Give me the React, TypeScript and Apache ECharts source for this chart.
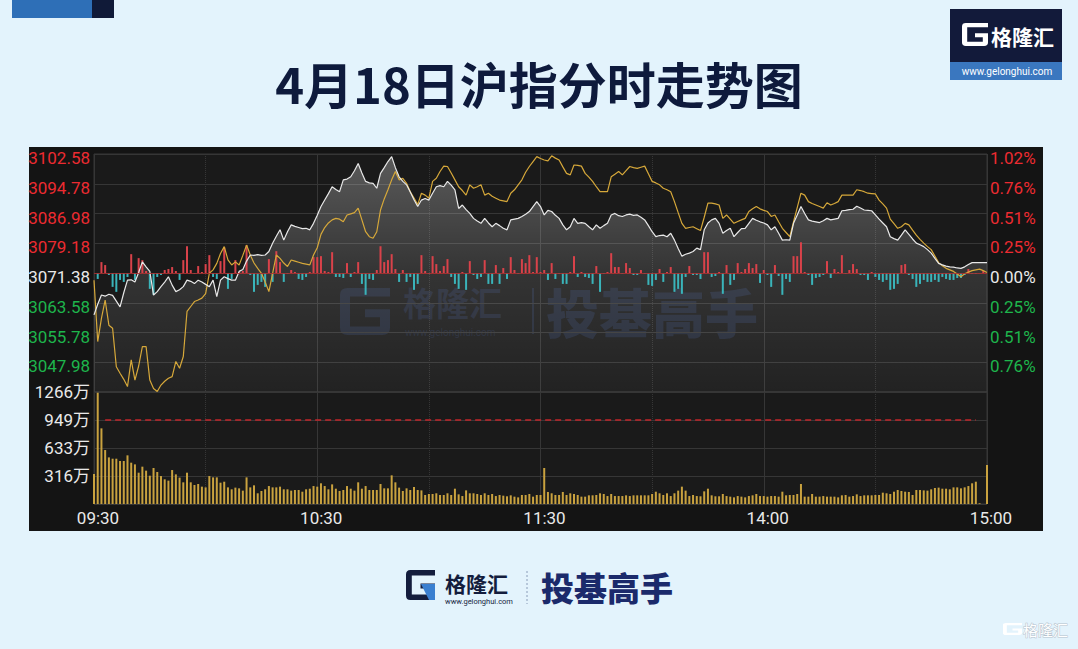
import React, { useEffect, useRef } from "react";
import * as echarts from "echarts";

const PREV_CLOSE = 3071.38;

const PRICE = [
  3060.4,3063.2,3065.6,3065.3,3065.8,3065.5,3064.0,3062.5,3066.2,3069.5,
  3069.6,3069.0,3071.5,3074.3,3073.0,3071.8,3065.6,3066.5,3067.8,3069.0,
  3070.4,3068.2,3066.5,3067.0,3067.8,3069.5,3069.2,3068.6,3069.5,3069.0,
  3068.4,3067.8,3069.5,3065.2,3069.5,3070.4,3069.9,3069.5,3069.5,3071.8,
  3072.3,3074.5,3076.1,3076.0,3076.2,3076.0,3076.1,3077.0,3079.2,3081.0,
  3082.7,3080.0,3082.2,3084.0,3083.6,3083.3,3083.0,3083.1,3082.7,3084.4,
  3086.5,3088.8,3090.5,3092.2,3094.0,3093.3,3092.7,3095.8,3096.0,3096.6,
  3098.2,3100.1,3097.6,3095.4,3095.0,3094.9,3093.6,3097.5,3099.0,3100.6,
  3101.9,3099.0,3096.6,3095.4,3094.5,3092.6,3090.6,3088.8,3090.5,3090.9,
  3090.5,3092.3,3094.0,3094.3,3094.0,3095.4,3094.4,3093.2,3088.3,3089.2,
  3088.0,3087.0,3085.7,3085.0,3084.4,3085.7,3084.5,3083.5,3084.4,3083.8,
  3083.1,3082.7,3085.3,3085.5,3085.7,3086.2,3086.8,3087.5,3088.8,3090.1,
  3088.8,3086.6,3087.8,3087.5,3086.5,3085.7,3084.0,3082.7,3083.5,3085.7,
  3084.4,3084.6,3084.4,3083.5,3082.7,3084.0,3083.1,3083.8,3084.4,3086.6,
  3087.0,3086.4,3086.2,3086.6,3086.8,3086.5,3086.6,3086.0,3085.3,3083.8,
  3082.2,3080.9,3081.2,3081.3,3080.9,3081.8,3080.0,3077.8,3075.8,3076.3,
  3076.6,3077.0,3077.9,3077.5,3082.7,3084.5,3085.3,3085.7,3084.4,3081.8,
  3082.5,3083.1,3080.9,3082.0,3083.0,3083.1,3084.4,3085.7,3085.2,3084.8,
  3084.5,3084.0,3082.7,3083.5,3081.8,3080.0,3080.1,3080.0,3084.4,3086.6,
  3088.8,3087.0,3085.3,3085.0,3084.8,3084.6,3085.1,3085.7,3085.3,3085.5,
  3085.7,3087.7,3087.8,3088.0,3088.1,3088.9,3088.4,3087.9,3087.8,3087.7,
  3086.6,3085.5,3084.5,3083.5,3080.9,3080.4,3080.0,3081.3,3082.7,3081.5,
  3080.3,3079.2,3078.8,3078.3,3077.5,3076.6,3075.2,3073.9,3073.5,3073.2,
  3073.0,3072.9,3072.7,3072.6,3073.0,3073.6,3074.1,3074.1,3074.1,3074.1,
  3074.1,
];

const AVG = [
  3069.5,3053.4,3059.5,3064.3,3057.7,3056.9,3046.8,3045.1,3043.5,3041.6,
  3048.6,3043.3,3047.0,3052.1,3052.1,3043.3,3041.1,3040.3,3042.0,3043.0,
  3043.8,3044.2,3048.2,3046.4,3049.5,3061.3,3062.6,3063.9,3064.3,3064.8,
  3066.0,3071.3,3072.2,3073.9,3076.5,3078.3,3074.8,3073.5,3074.3,3073.5,
  3076.0,3078.7,3076.1,3074.0,3072.6,3071.3,3069.0,3066.5,3071.3,3076.1,
  3075.2,3074.0,3073.1,3074.8,3074.5,3074.2,3073.9,3073.7,3073.5,3076.1,
  3078.0,3081.5,3083.3,3084.5,3085.3,3085.7,3085.5,3084.8,3086.6,3086.9,
  3087.2,3088.4,3085.3,3082.2,3080.9,3080.5,3082.2,3087.9,3090.8,3093.2,
  3095.8,3098.0,3095.8,3096.2,3094.9,3092.7,3091.0,3089.3,3092.3,3091.8,
  3091.0,3095.4,3096.2,3098.0,3099.4,3099.3,3097.6,3095.8,3094.0,3093.0,
  3091.8,3094.5,3093.6,3094.0,3094.5,3091.8,3092.3,3091.5,3091.0,3090.5,
  3090.3,3090.1,3092.3,3093.2,3094.5,3095.8,3097.8,3099.3,3100.6,3101.9,
  3101.4,3101.0,3100.8,3102.1,3101.5,3101.0,3099.2,3097.5,3097.1,3099.7,
  3099.6,3099.4,3097.5,3096.5,3095.4,3094.0,3092.7,3092.7,3092.7,3096.6,
  3097.3,3098.0,3097.1,3098.2,3099.3,3099.0,3098.8,3099.1,3099.4,3097.4,
  3095.4,3095.0,3094.5,3093.6,3093.2,3092.7,3090.1,3087.2,3084.4,3083.1,
  3083.3,3083.5,3083.0,3082.5,3086.0,3089.7,3089.7,3089.5,3089.2,3085.7,
  3086.6,3085.5,3084.4,3084.9,3085.3,3085.7,3087.5,3088.2,3088.8,3088.2,
  3087.8,3087.5,3086.2,3086.6,3084.8,3083.1,3082.0,3080.9,3084.8,3088.5,
  3092.3,3091.8,3090.1,3089.6,3089.2,3088.8,3088.4,3089.8,3089.2,3089.6,
  3090.1,3091.8,3091.8,3091.8,3091.8,3093.2,3093.0,3092.7,3092.3,3092.2,
  3092.1,3090.5,3089.5,3088.4,3085.5,3084.3,3083.1,3083.5,3084.4,3084.0,
  3082.6,3081.3,3080.2,3079.2,3078.3,3077.5,3075.8,3074.1,3073.3,3072.6,
  3072.2,3071.8,3071.1,3070.4,3071.2,3071.6,3072.0,3072.2,3072.4,3072.0,
  3071.5,
];

const FORCE = [
  0,-6,11,8,-2,-14,-19,-7,-9,-4,
  19,-7,15,13,2,-16,-22,-4,-2,3,
  4,6,2,-7,13,27,3,-1,7,1,
  9,18,-4,-6,12,26,-16,-6,13,1,
  2,28,-2,-19,-12,-9,-14,14,-9,22,
  11,-9,-1,3,1,-6,-7,-4,1,16,
  16,17,2,1,21,-4,-4,-5,10,-4,
  1,11,-11,-22,-6,-7,3,27,11,13,
  19,4,-9,3,-9,-4,-17,-11,18,2,
  -1,17,9,2,7,14,-4,-11,-16,1,
  -17,12,-2,-6,-4,13,-11,-11,8,-11,
  5,-6,16,3,-1,14,10,18,1,16,
  1,3,-7,10,-6,-1,-11,-11,1,17,
  -4,1,-4,-5,-11,7,-19,-1,1,20,
  6,6,-1,10,5,-2,-2,3,-1,-12,
  -13,-7,4,-9,1,6,-19,-16,-21,-4,
  7,-2,-2,-6,21,21,-4,-3,1,-21,
  8,-12,-7,10,1,4,10,5,9,-10,
  3,-2,-14,8,-3,-22,-6,-9,17,17,
  31,1,-2,-12,-5,-4,-2,12,-5,4,
  1,18,-1,3,9,4,-2,-2,-7,1,
  -4,-7,-9,-7,-17,-16,-11,8,9,-2,
  -6,-14,-11,-7,-9,-9,-7,-9,-4,-6,
  -7,-7,-5,-5,-2,4,-1,-1,0,2,
  0,
];

// 成交量（万）
const VOLUME = [
  339,1258,855,610,527,512,512,486,486,550,
  467,448,354,422,377,320,407,362,316,279,
  264,384,335,298,245,354,245,215,226,196,
  188,316,301,301,241,252,188,166,185,177,
  151,301,188,211,121,147,166,203,188,188,
  196,166,166,151,158,158,139,166,173,203,
  196,234,203,166,222,173,147,158,203,173,
  151,245,173,203,158,158,158,226,177,177,
  324,245,185,147,177,158,192,158,154,102,
  113,113,121,102,102,121,102,173,109,90,
  154,121,121,113,102,121,102,113,90,102,
  94,87,98,83,75,102,102,113,83,102,
  102,407,136,121,102,102,136,102,121,113,
  102,83,83,98,98,102,121,113,90,113,
  90,90,90,98,90,98,98,98,98,98,
  113,139,121,102,121,90,121,151,196,151,
  90,102,90,87,143,173,98,87,87,113,
  90,83,75,90,83,75,90,98,113,90,
  90,83,90,90,83,139,98,102,102,113,
  226,83,83,113,83,83,90,83,83,83,
  75,98,102,83,90,109,90,98,98,98,
  102,102,128,121,113,139,158,147,139,136,
  102,158,158,154,151,166,181,185,173,173,
  166,188,188,177,188,203,234,252,8,0,
  441,
];

const VOLUME_REF = 949.5;
const TITLE = "4月18日沪指分时走势图";

const G_PATH =
  "M100 0 L15 0 Q0 0 0 15 L0 85 Q0 100 15 100 L85 100 Q100 100 100 85 L100 45 L50 45 L50 62 L80 62 L80 82 L20 82 L20 18 L100 18 Z";
echarts.graphic.registerShape("gelongG", echarts.graphic.extendPath(G_PATH, {}) as any);

function pad2(n: number) {
  return n < 10 ? "0" + n : String(n);
}
function buildTimes(): string[] {
  const out: string[] = [];
  for (let i = 0; i <= 120; i++) {
    const m = 9 * 60 + 30 + i;
    out.push(pad2(Math.floor(m / 60)) + ":" + pad2(m % 60));
  }
  for (let i = 1; i <= 120; i++) {
    const m = 13 * 60 + i;
    out.push(pad2(Math.floor(m / 60)) + ":" + pad2(m % 60));
  }
  return out;
}

const FONT = 'Roboto, "Noto Sans CJK SC", sans-serif';
const CJK = '"Noto Sans CJK SC", sans-serif';
const RED = "#ec2b31";
const GREEN = "#1eb54c";
const WHITE = "#e9e9e9";
const GRID_LINE = "#363636";

export default function App() {
  const ref = useRef<HTMLDivElement>(null);

  useEffect(() => {
    if (!ref.current) return;
    const chart = echarts.init(ref.current, undefined, { renderer: "svg" });
    const times = buildTimes();
    const solid = (i: number) => i % 60 === 0;
    const dotted = (i: number) => i % 60 === 30;
    const xBase = (gridIndex: number, type: string, interval: any, showLabel: boolean) => ({
      type: "category",
      gridIndex,
      data: times,
      boundaryGap: false,
      axisLine: { show: false },
      axisTick: { show: false },
      axisLabel: showLabel
        ? {
            show: true,
            interval: (i: number) => i % 60 === 0,
            color: WHITE,
            fontSize: 17,
            fontFamily: FONT,
            margin: 5,
            padding: [0, 0, 0, 8],
          }
        : { show: false },
      splitLine: { show: true, interval, lineStyle: { color: GRID_LINE, type, width: 1 } },
    });

    const priceLabel = (v: number) => {
      const k = v > 0.001 ? "r" : v < -0.001 ? "g" : "w";
      return `{${k}|${(v + PREV_CLOSE).toFixed(2)}}`;
    };
    const pctLabel = (v: number) => {
      const k = v > 0.001 ? "r" : v < -0.001 ? "g" : "w";
      return `{${k}|${Math.abs((v / PREV_CLOSE) * 100).toFixed(2)}%}`;
    };
    const rich = {
      r: { color: RED, fontSize: 17, fontFamily: FONT },
      g: { color: GREEN, fontSize: 17, fontFamily: FONT },
      w: { color: WHITE, fontSize: 17, fontFamily: FONT },
    };

    const gIcon = (x: number, y: number, sx: number, sy: number, fill: string, z = 0) => ({
      type: "gelongG",
      x,
      y,
      scaleX: sx,
      scaleY: sy,
      z,
      style: { fill },
    });

    const wm = "rgba(48,62,100,0.38)";

    const option: any = {
      animation: false,
      backgroundColor: "transparent",
      title: {
        text: TITLE,
        left: "center",
        top: 50,
        textStyle: {
          fontSize: 49,
          fontWeight: "bold",
          color: "#0e1a3c",
          fontFamily: CJK,
          lineHeight: 54,
        },
      },
      grid: [
        { left: 94, top: 154, width: 893, height: 238, show: true, backgroundColor: "transparent", borderColor: GRID_LINE, borderWidth: 1 },
        { left: 94, top: 392, width: 893, height: 112, show: true, backgroundColor: "transparent", borderColor: GRID_LINE, borderWidth: 1 },
      ],
      xAxis: [
        xBase(0, "solid", solid, false),
        xBase(0, "dotted", dotted, false),
        xBase(1, "solid", solid, true),
        xBase(1, "dotted", dotted, false),
      ],
      yAxis: [
        {
          type: "value",
          gridIndex: 0,
          position: "left",
          min: -31.2,
          max: 31.2,
          interval: 7.8,
          axisLine: { show: false },
          axisTick: { show: false },
          splitLine: { show: true, lineStyle: { color: GRID_LINE, width: 1 } },
          axisLabel: { showMinLabel: false, margin: 4, formatter: priceLabel, rich, padding: [8, 0, 0, 0] },
        },
        {
          type: "value",
          gridIndex: 0,
          position: "right",
          min: -31.2,
          max: 31.2,
          interval: 7.8,
          axisLine: { show: false },
          axisTick: { show: false },
          splitLine: { show: false },
          axisLabel: { showMinLabel: false, margin: 3, formatter: pctLabel, rich, padding: [8, 0, 0, 0] },
        },
        {
          type: "value",
          gridIndex: 0,
          min: -120,
          max: 120,
          show: false,
          splitLine: { show: false },
        },
        {
          type: "value",
          gridIndex: 1,
          position: "left",
          min: 0,
          max: 1266,
          interval: 316.5,
          axisLine: { show: false },
          axisTick: { show: false },
          splitLine: { show: true, lineStyle: { color: GRID_LINE, width: 1 } },
          axisLabel: {
            margin: 4,
            color: WHITE,
            fontSize: 17,
            fontFamily: FONT,
            padding: [10, 0, 0, 0],
            formatter: (v: number) => (v === 0 ? "" : Math.floor(v) + "万"),
          },
        },
      ],
      series: [
        {
          name: "价格区域",
          type: "line",
          xAxisIndex: 0,
          yAxisIndex: 0,
          data: PRICE.map((p) => +(p - PREV_CLOSE).toFixed(2)),
          symbol: "none",
          lineStyle: { width: 0 },
          areaStyle: {
            origin: "start",
            color: new echarts.graphic.LinearGradient(0, 0, 0, 1, [
              { offset: 0, color: "rgba(255,255,255,0.40)" },
              { offset: 0.5, color: "rgba(255,255,255,0.16)" },
              { offset: 1, color: "rgba(255,255,255,0.05)" },
            ]),
          },
          silent: true,
          z: 1,
        },
        {
          name: "力度",
          type: "bar",
          xAxisIndex: 0,
          yAxisIndex: 2,
          barWidth: 2,
          data: FORCE.map((v) => ({ value: v, itemStyle: { color: v >= 0 ? "#d9424a" : "#3ab4ba" } })),
          markLine: {
            silent: true,
            symbol: "none",
            label: { show: false },
            lineStyle: { color: "rgba(170,45,45,0.85)", type: "solid", width: 1 },
            data: [{ yAxis: 0 }],
          },
          z: 2,
        },
        {
          name: "均价",
          type: "line",
          xAxisIndex: 0,
          yAxisIndex: 0,
          data: AVG.map((p) => +(p - PREV_CLOSE).toFixed(2)),
          symbol: "none",
          lineStyle: { color: "#d6a83a", width: 1.2 },
          z: 3,
        },
        {
          name: "价格",
          type: "line",
          xAxisIndex: 0,
          yAxisIndex: 0,
          data: PRICE.map((p) => +(p - PREV_CLOSE).toFixed(2)),
          symbol: "none",
          lineStyle: { color: "#e8e8e8", width: 1.2 },
          z: 4,
        },
        {
          name: "成交量",
          type: "bar",
          xAxisIndex: 2,
          yAxisIndex: 3,
          barWidth: 2,
          itemStyle: { color: "#c9a23f" },
          data: VOLUME,
          markLine: {
            silent: true,
            symbol: "none",
            label: { show: false },
            lineStyle: { color: "#c4262b", type: [6, 4], width: 1.6 },
            data: [[{ xAxis: times[3], yAxis: VOLUME_REF }, { xAxis: times[237], yAxis: VOLUME_REF }]],
          },
        },
      ],
      graphic: [
        // top-left decoration
        { type: "rect", shape: { x: 12, y: 0, width: 80, height: 18 }, style: { fill: "#2e6fb7" } },
        { type: "rect", shape: { x: 92, y: 0, width: 22, height: 18 }, style: { fill: "#101a38" } },
        // top-right logo
        { type: "rect", shape: { x: 950, y: 9, width: 112, height: 53 }, style: { fill: "#121a3a" } },
        { type: "rect", shape: { x: 950, y: 62, width: 112, height: 18 }, style: { fill: "#3a77bf" } },
        gIcon(962, 23, 0.26, 0.23, "#ffffff"),
        { type: "text", x: 991, y: 36, style: { text: "格隆汇", fill: "#ffffff", font: `bold 21px ${CJK}`, verticalAlign: "middle" } },
        { type: "text", x: 1007, y: 71, style: { text: "www.gelonghui.com", fill: "#ffffff", font: `10px ${FONT}`, align: "center", verticalAlign: "middle" } },
        // in-chart watermark
        gIcon(340, 288, 0.5, 0.47, wm),
        { type: "text", x: 403, y: 302, style: { text: "格隆汇", fill: wm, font: `bold 33px ${CJK}`, verticalAlign: "middle" } },
        { type: "text", x: 405, y: 332, style: { text: "www.gelonghui.com", fill: wm, font: `10px ${FONT}`, verticalAlign: "middle" } },
        { type: "rect", shape: { x: 532, y: 288, width: 2, height: 46 }, style: { fill: wm } },
        { type: "text", x: 546, y: 311, style: { text: "投基高手", fill: wm, font: `900 53px ${CJK}`, verticalAlign: "middle" } },
        // bottom logo
        gIcon(406, 570, 0.29, 0.3, "#141d3d"),
        { type: "polygon", shape: { points: [[421, 584], [435, 584], [435, 600], [429, 600]] }, style: { fill: "#3a7fd0" } },
        { type: "text", x: 445, y: 583, style: { text: "格隆汇", fill: "#141d3d", font: `bold 21px ${CJK}`, verticalAlign: "middle" } },
        { type: "text", x: 445, y: 601, style: { text: "www.gelonghui.com", fill: "#141d3d", font: `7.5px ${FONT}`, verticalAlign: "middle" } },
        { type: "line", shape: { x1: 527, y1: 571, x2: 527, y2: 604 }, style: { stroke: "#8a9cb8", lineWidth: 1, lineDash: [2, 2] } },
        { type: "text", x: 541, y: 587, style: { text: "投基高手", fill: "#1b2a6b", font: `900 33px ${CJK}`, verticalAlign: "middle" } },
        // bottom-right watermark
        gIcon(1003, 623, 0.19, 0.12, "#ffffff"),
        { type: "text", x: 1023, y: 629, style: { text: "格隆汇", fill: "#ffffff", stroke: "#b5c2cc", lineWidth: 1, font: `15px ${CJK}`, verticalAlign: "middle" } },
      ],
    };

    chart.setOption(option);
    return () => chart.dispose();
  }, []);

  return (
    <div style={{ position: "fixed", left: 0, top: 0, width: 1078, height: 649, background: "#e3f3fc", overflow: "hidden" }}>
      <div style={{ position: "absolute", left: 29, top: 147, width: 1014, height: 384, background: "#141414" }} />
      <div style={{ position: "absolute", left: 94, top: 154, width: 893, height: 350, background: "#1a1a1a" }} />
      <div ref={ref} style={{ position: "absolute", left: 0, top: 0, width: 1078, height: 649 }} />
    </div>
  );
}
